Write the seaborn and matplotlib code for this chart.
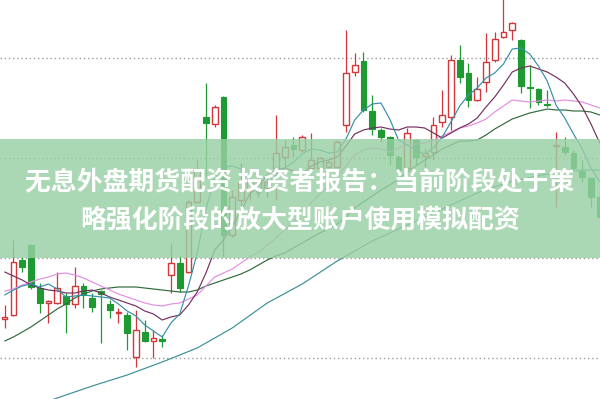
import numpy as np
import matplotlib
matplotlib.use("Agg")
import matplotlib.pyplot as plt
import seaborn as sns

# ---------------- data ----------------
opens = [1.39, 1.43, 1.98, 2.13, 1.70, 1.55, 1.55, 1.62, 1.54, 1.72,
         1.60, 1.67, 1.54, 1.45, 1.43, 1.01, 1.26, 1.17, 1.19, 1.83,
         1.95, 1.86, 2.56, 3.41, 3.34, 3.61, 2.23, 2.58, 2.68, 2.68,
         2.70, 2.90, 3.01, 3.13, 3.08, 2.90, 2.90, 2.91, 2.91, 3.33,
         3.86, 3.97, 3.47, 3.28, 3.21, 3.01, 2.90, 3.18, 3.02, 3.06,
         3.36, 3.41, 3.98, 3.85, 3.58, 3.76, 3.98, 4.21, 4.28, 4.18,
         3.71, 3.69, 3.54, 3.12, 3.11, 3.05, 2.87, 2.80, 2.61]
closes = [1.41, 1.96, 1.91, 1.71, 1.55, 1.57, 1.70, 1.54, 1.72, 1.63,
          1.51, 1.64, 1.48, 1.46, 1.25, 1.28, 1.17, 1.20, 1.17, 1.95,
          1.70, 2.56, 2.88, 3.35, 3.51, 2.23, 2.61, 2.76, 2.78, 2.78,
          2.76, 3.05, 3.11, 3.09, 3.21, 2.98, 3.00, 2.96, 3.16, 3.85,
          3.93, 3.48, 3.29, 3.21, 3.03, 2.88, 3.25, 3.01, 3.05, 3.33,
          3.43, 3.98, 3.81, 3.58, 3.69, 3.96, 4.19, 4.26, 4.35, 3.72,
          3.70, 3.56, 3.53, 3.13, 3.06, 2.90, 2.81, 2.61, 2.41]
highs = [1.53, 2.18, 2.01, 2.14, 1.75, 1.58, 1.86, 1.65, 1.91, 1.75,
         1.65, 1.68, 1.58, 1.50, 1.46, 1.48, 1.38, 1.28, 1.23, 2.15,
         2.03, 2.58, 2.98, 3.75, 3.53, 3.62, 2.68, 2.95, 2.80, 2.90,
         2.83, 3.43, 3.18, 3.21, 3.23, 3.25, 3.01, 2.98, 3.18, 4.28,
         4.05, 4.06, 3.63, 3.30, 3.22, 3.03, 3.30, 3.19, 3.10, 3.41,
         3.68, 4.03, 4.13, 3.95, 3.81, 4.25, 4.26, 4.63, 4.36, 4.19,
         3.93, 3.70, 3.68, 3.26, 3.21, 3.08, 2.98, 2.81, 2.71]
lows = [1.30, 1.42, 1.86, 1.69, 1.45, 1.35, 1.54, 1.25, 1.50, 1.50,
        1.46, 1.15, 1.40, 1.35, 1.08, 0.91, 1.16, 1.00, 1.11, 1.65,
        1.66, 1.85, 2.55, 2.81, 3.31, 2.01, 2.21, 2.45, 2.58, 2.61,
        2.61, 2.58, 2.91, 3.01, 3.06, 2.90, 2.88, 2.90, 2.90, 3.26,
        3.82, 3.46, 3.23, 3.16, 2.93, 2.85, 2.88, 2.93, 2.91, 2.98,
        3.31, 3.28, 3.75, 3.51, 3.57, 3.66, 3.96, 4.20, 4.18, 3.65,
        3.50, 3.53, 3.51, 2.51, 3.03, 2.88, 2.76, 2.51, 2.36]

ma5 = [1.63, 1.68, 1.72, 1.74, 1.71, 1.74, 1.69, 1.61, 1.62, 1.63,
       1.62, 1.61, 1.60, 1.54, 1.47, 1.42, 1.33, 1.27, 1.21, 1.35,
       1.44, 1.72, 2.05, 2.49, 2.80, 2.91, 2.92, 2.89, 2.78, 2.63,
       2.74, 2.83, 2.90, 2.96, 3.04, 3.09, 3.08, 3.05, 3.06, 3.19,
       3.38, 3.48, 3.54, 3.55, 3.39, 3.18, 3.13, 3.08, 3.04, 3.10,
       3.21, 3.36, 3.52, 3.63, 3.70, 3.80, 3.85, 3.94, 4.09, 4.10,
       4.04, 3.92, 3.77, 3.53, 3.40, 3.24, 3.09, 2.90, 2.76]
ma10 = [1.86, 1.82, 1.78, 1.73, 1.70, 1.68, 1.67, 1.65, 1.65, 1.67,
        1.68, 1.65, 1.61, 1.58, 1.55, 1.52, 1.47, 1.44, 1.38, 1.41,
        1.43, 1.53, 1.66, 1.85, 2.08, 2.18, 2.32, 2.47, 2.64, 2.72,
        2.83, 2.88, 2.90, 2.87, 2.84, 2.92, 2.96, 2.98, 3.01, 3.12,
        3.24, 3.28, 3.30, 3.31, 3.29, 3.28, 3.31, 3.31, 3.30, 3.25,
        3.20, 3.25, 3.30, 3.34, 3.40, 3.51, 3.61, 3.73, 3.86, 3.90,
        3.92, 3.89, 3.86, 3.81, 3.75, 3.64, 3.51, 3.34, 3.15]
ma20 = [1.67, 1.69, 1.73, 1.76, 1.79, 1.81, 1.84, 1.85, 1.83, 1.80,
        1.76, 1.72, 1.68, 1.64, 1.61, 1.58, 1.55, 1.53, 1.52, 1.54,
        1.55, 1.59, 1.63, 1.72, 1.81, 1.85, 1.89, 1.95, 2.01, 2.06,
        2.13, 2.20, 2.28, 2.36, 2.46, 2.55, 2.64, 2.72, 2.82, 2.92,
        3.03, 3.08, 3.10, 3.09, 3.06, 3.10, 3.13, 3.14, 3.15, 3.18,
        3.22, 3.26, 3.30, 3.32, 3.35, 3.39, 3.46, 3.52, 3.58, 3.57,
        3.56, 3.57, 3.58, 3.57, 3.58, 3.57, 3.56, 3.53, 3.50]
ma30 = [1.17, 1.21, 1.26, 1.31, 1.37, 1.43, 1.49, 1.54, 1.60, 1.64,
        1.67, 1.69, 1.70, 1.71, 1.71, 1.71, 1.70, 1.69, 1.68, 1.67,
        1.66, 1.66, 1.68, 1.72, 1.75, 1.78, 1.81, 1.84, 1.88, 1.93,
        1.98, 2.02, 2.05, 2.10, 2.15, 2.20, 2.25, 2.29, 2.34, 2.41,
        2.50, 2.56, 2.62, 2.68, 2.73, 2.79, 2.86, 2.92, 2.98, 3.03,
        3.09, 3.13, 3.17, 3.17, 3.18, 3.23, 3.29, 3.34, 3.39, 3.42,
        3.45, 3.47, 3.49, 3.48, 3.48, 3.47, 3.47, 3.46, 3.43]
ma60_days = [5, 6, 10, 14, 18, 22, 26, 30, 34, 38, 42, 46, 50, 54, 58, 62, 66, 68]
ma60 = [0.57, 0.60, 0.72, 0.83, 0.96, 1.10, 1.30, 1.55, 1.74, 1.97,
        2.17, 2.33, 2.49, 2.65, 2.77, 2.84, 2.88, 2.88]

grid_levels = [1.0, 2.0, 3.0, 4.0]
title_lines = ["无息外盘期货配资 投资者报告：当前阶段处于策",
               "略强化阶段的放大型账户使用模拟配资"]

# ---------------- styling ----------------
sns.set_style("white")
plt.rcParams['font.family'] = ['Noto Sans CJK SC', 'DejaVu Sans']

RED = "#d1373b"
GREEN = "#1f9a33"

fig = plt.figure(figsize=(6.0, 3.99), dpi=100)
ax = fig.add_axes([0, 0, 1, 1])
ax.set_xlim(-0.537, 68.03)
ax.set_ylim(0.59, 4.58)

days = np.arange(len(opens))
o = np.array(opens); c = np.array(closes)
h = np.array(highs); l = np.array(lows)
up = c >= o
top = np.maximum(o, c); bot = np.minimum(o, c)
hgt = np.maximum(top - bot, 0.012)
w = 0.64

# green (down) candles: wick then filled body
ax.vlines(days[~up], l[~up], h[~up], color=GREEN, linewidth=0.9, zorder=2)
ax.bar(days[~up], hgt[~up], bottom=bot[~up], width=w, color=GREEN,
       edgecolor=GREEN, linewidth=0.8, zorder=3)
# red (up) candles: hollow bodies with split wicks
ax.vlines(days[up], top[up], h[up], color=RED, linewidth=0.9, zorder=2)
ax.vlines(days[up], l[up], bot[up], color=RED, linewidth=0.9, zorder=2)
ax.bar(days[up], hgt[up], bottom=bot[up], width=w, facecolor="white",
       edgecolor=RED, linewidth=1.0, zorder=3)

# moving average lines
for vals, xs, col in [(ma60, ma60_days, "#3b8f96"),
                      (ma30, days, "#2f6b3a"),
                      (ma20, days, "#e38de3"),
                      (ma10, days, "#74305f"),
                      (ma5, days, "#3590a8")]:
    sns.lineplot(x=list(xs), y=vals, ax=ax, color=col, linewidth=0.85,
                 estimator=None, legend=False, zorder=4)

# dotted grid
ax.set_yticks(grid_levels)
ax.set_xticks([])
ax.yaxis.grid(True, linestyle=(0, (1, 2)), color="#9c9c9c", linewidth=1.0)
ax.set_axisbelow(True)
ax.tick_params(length=0, labelleft=False, labelbottom=False)
for s in ax.spines.values():
    s.set_visible(False)
ax.set_xlabel(""); ax.set_ylabel("")

# translucent green banner with title text
ax.axhspan(2.00, 3.19, color=(0.60, 0.815, 0.645), alpha=0.82, zorder=5, lw=0)
fig.text(0.5, 1 - 181.5 / 399, title_lines[0], ha="center", va="center",
         color="white", fontsize=18.6, fontweight="bold", zorder=6)
fig.text(0.5, 1 - 219.5 / 399, title_lines[1], ha="center", va="center",
         color="white", fontsize=18.6, fontweight="bold", zorder=6)

fig.savefig("out.png", dpi=100)
